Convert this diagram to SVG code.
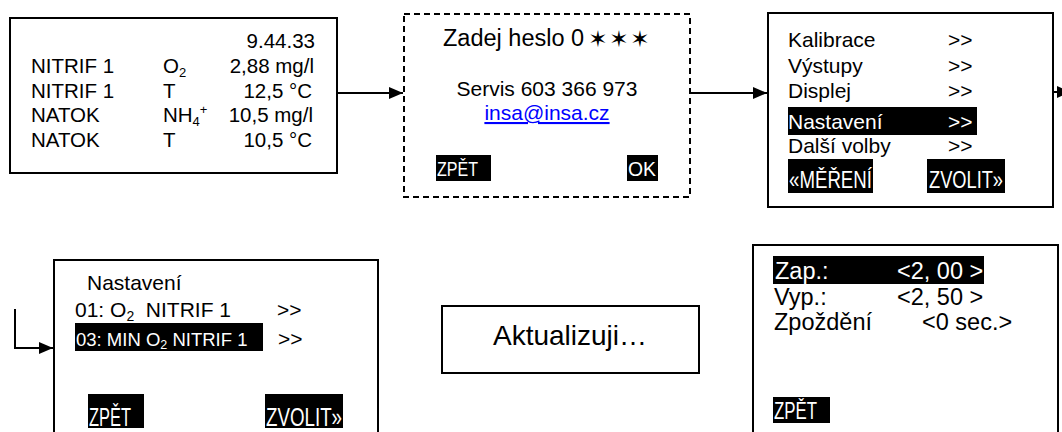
<svg xmlns="http://www.w3.org/2000/svg" width="1062" height="432" viewBox="0 0 1062 432">
<defs>
<style>
.box{fill:#fff;stroke:#000;stroke-width:2}
.dash{fill:#fff;stroke:#000;stroke-width:2;stroke-dasharray:6 4}
.t{font-family:"Liberation Sans",Arial,sans-serif;fill:#000}
.w{font-family:"Liberation Sans",Arial,sans-serif;fill:#fff}
.hl{fill:#000}
.conn{fill:none;stroke:#000;stroke-width:2}
</style>
<marker id="ah" markerUnits="userSpaceOnUse" markerWidth="14" markerHeight="14" refX="14" refY="7" orient="auto">
<path d="M0,1 L14,7 L0,13 Z" fill="#000"/>
</marker>
</defs>
<rect width="1062" height="432" fill="#fff"/>

<g id="connectors">
<line class="conn" x1="337" y1="93" x2="403" y2="93" marker-end="url(#ah)"/>
<line class="conn" x1="690" y1="93" x2="767" y2="93" marker-end="url(#ah)"/>
<line class="conn" x1="1043" y1="92" x2="1071" y2="92" marker-end="url(#ah)"/>
<polyline class="conn" points="15,309 15,348 53,348" marker-end="url(#ah)"/>
</g>

<g id="node-measure">
<rect class="box" x="10" y="18" width="327" height="155"/>
<g class="t" font-size="20.5">
<text x="315" y="48" text-anchor="end">9.44.33</text>
<text x="31" y="73">NITRIF 1</text>
<text x="31" y="98">NITRIF 1</text>
<text x="31" y="122">NATOK</text>
<text x="31" y="147">NATOK</text>
<text x="163" y="73">O<tspan font-size="13" dy="4">2</tspan></text>
<text x="163" y="98">T</text>
<text x="163" y="122">NH<tspan font-size="13" dy="4">4</tspan><tspan font-size="13" dy="-12">+</tspan></text>
<text x="163" y="147">T</text>
<text x="314" y="73" text-anchor="end">2,88 mg/l</text>
<text x="312" y="98" text-anchor="end">12,5 °C</text>
<text x="313" y="122" text-anchor="end">10,5 mg/l</text>
<text x="312" y="147" text-anchor="end">10,5 °C</text>
</g>
</g>

<g id="node-password">
<rect class="dash" x="404" y="14" width="286" height="183"/>
<text class="t" x="443" y="46" font-size="23.5">Zadej heslo 0</text>
<g font-family="DejaVu Sans,sans-serif" font-size="23" fill="#000" text-anchor="middle">
<text x="598" y="47">✶</text>
<text x="619" y="47">✶</text>
<text x="640" y="47">✶</text>
</g>
<text class="t" x="547" y="96" font-size="21" text-anchor="middle">Servis 603 366 973</text>
<text x="547" y="120" font-size="21" text-anchor="middle" font-family="Liberation Sans,Arial,sans-serif" fill="#0000ff" text-decoration="underline">insa@insa.cz</text>
<rect class="hl" x="436" y="155" width="55" height="26"/>
<text class="w" x="437" y="176" font-size="21" textLength="41" lengthAdjust="spacingAndGlyphs">ZPĚT</text>
<rect class="hl" x="627" y="155" width="31" height="26"/>
<text class="w" x="628" y="176" font-size="21" textLength="28" lengthAdjust="spacingAndGlyphs">OK</text>
</g>

<g id="node-menu">
<rect class="box" x="768" y="13" width="285" height="194"/>
<rect class="hl" x="788" y="107" width="189" height="28"/>
<g class="t" font-size="21">
<text x="788" y="47">Kalibrace</text>
<text x="788" y="73">Výstupy</text>
<text x="788" y="98">Displej</text>
<text x="788" y="153">Další volby</text>
<text x="948" y="47">&gt;&gt;</text>
<text x="948" y="73">&gt;&gt;</text>
<text x="948" y="98">&gt;&gt;</text>
<text x="948" y="153">&gt;&gt;</text>
</g>
<text class="w" x="788" y="129" font-size="21">Nastavení</text>
<text class="w" x="948" y="129" font-size="21">&gt;&gt;</text>
<rect class="hl" x="788" y="159" width="85" height="34"/>
<text class="w" x="789" y="188" font-size="23" font-weight="bold" textLength="83" lengthAdjust="spacingAndGlyphs" style="font-weight:normal">«MĚŘENÍ</text>
<rect class="hl" x="927" y="159" width="78" height="34"/>
<text class="w" x="929" y="188" font-size="23" textLength="74" lengthAdjust="spacingAndGlyphs">ZVOLIT»</text>
</g>

<g id="node-settings">
<rect class="box" x="54" y="260" width="324" height="180"/>
<text class="t" x="87" y="290" font-size="21">Nastavení</text>
<text class="t" x="75" y="317" font-size="21">01: O<tspan font-size="14" dy="4">2</tspan><tspan dy="-4">&#160; NITRIF 1</tspan></text>
<text class="t" x="277" y="317" font-size="21">&gt;&gt;</text>
<rect class="hl" x="75" y="323" width="188" height="28"/>
<text class="w" x="76" y="346" font-size="18.5">03: MIN O<tspan font-size="12.5" dy="3">2</tspan><tspan dy="-3"> NITRIF 1</tspan></text>
<text class="t" x="278" y="346" font-size="21">&gt;&gt;</text>
<rect class="hl" x="88" y="394" width="56" height="34"/>
<text class="w" x="89" y="426" font-size="26" textLength="42" lengthAdjust="spacingAndGlyphs">ZPĚT</text>
<rect class="hl" x="265" y="394" width="78" height="34"/>
<text class="w" x="266" y="426" font-size="26" textLength="76" lengthAdjust="spacingAndGlyphs">ZVOLIT»</text>
</g>

<g id="node-update">
<rect class="box" x="442" y="306" width="257" height="67"/>
<text class="t" x="570" y="345" font-size="28" text-anchor="middle">Aktualizuji…</text>
</g>

<g id="node-values">
<rect class="box" x="753" y="245" width="305" height="200"/>
<rect class="hl" x="773" y="256" width="211" height="28"/>
<text class="w" x="775" y="279" font-size="23.5">Zap.:</text>
<text class="w" x="897" y="279" font-size="23.5">&lt;2, 00 &gt;</text>
<text class="t" x="774" y="305" font-size="23.5">Vyp.:</text>
<text class="t" x="897" y="305" font-size="23.5">&lt;2, 50 &gt;</text>
<text class="t" x="774" y="330" font-size="23.5">Zpoždění</text>
<text class="t" x="922" y="330" font-size="23.5">&lt;0 sec.&gt;</text>
<rect class="hl" x="773" y="397" width="57" height="26"/>
<text class="w" x="774" y="419" font-size="23" textLength="43" lengthAdjust="spacingAndGlyphs">ZPĚT</text>
</g>
</svg>
